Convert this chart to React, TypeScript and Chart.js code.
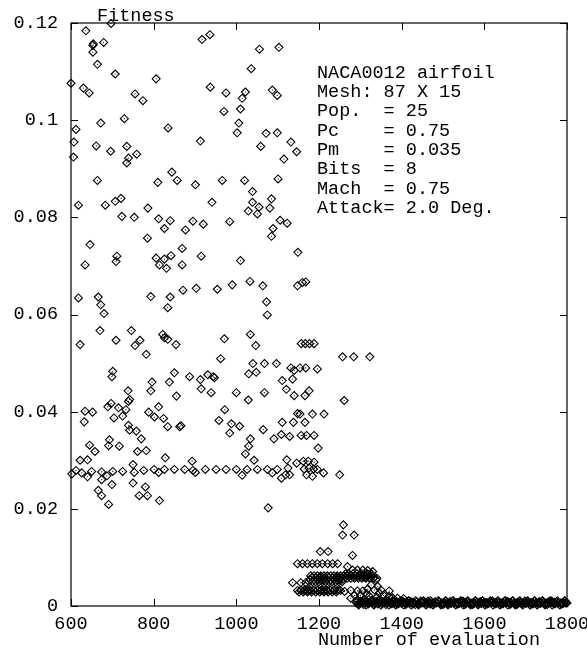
import React, { useEffect, useRef } from "react";
import { Chart, registerables } from "chart.js";

Chart.register(...registerables);

// ---- data (evaluation number, fitness) ----
const upperPoints: [number, number][] = [
  [636,0.1184],[697,0.1199],[654,0.1157],[653,0.1154],[679,0.1160],[653,0.1140],[664,0.1115],[707,0.1095],
  [600,0.1076],[630,0.1066],[644,0.1056],[917,0.1166],[936,0.1176],[1056,0.1146],[1103,0.1150],[1036,0.1106],
  [806,0.1085],[937,0.1068],[975,0.1056],[1022,0.1058],[1014,0.1045],[1087,0.1062],[1099,0.1051],[755,0.1054],
  [774,0.1040],[1010,0.1023],[970,0.1018],[672,0.0994],[729,0.1003],[612,0.0981],[835,0.0984],[1006,0.0994],
  [1002,0.0974],[1072,0.0973],[1099,0.0974],[607,0.0955],[661,0.0947],[696,0.0936],[735,0.0946],[759,0.0930],
  [739,0.0922],[735,0.0912],[1059,0.0946],[913,0.0957],[1132,0.0955],[1146,0.0935],[1115,0.0920],[606,0.0924],
  [664,0.0876],[810,0.0872],[844,0.0893],[857,0.0876],[901,0.0867],[966,0.0876],[1020,0.0876],[1101,0.0879],
  [1039,0.0853],[941,0.0831],[1039,0.0831],[1055,0.0821],[1085,0.0838],[1029,0.0813],[1051,0.0807],[1081,0.0819],
  [618,0.0825],[683,0.0825],[707,0.0833],[721,0.0839],[723,0.0802],[753,0.0800],[786,0.0819],[812,0.0797],
  [840,0.0793],[826,0.0777],[877,0.0774],[895,0.0792],[920,0.0786],[984,0.0791],[1106,0.0794],[1123,0.0788],
  [1089,0.0777],[1085,0.0761],[646,0.0744],[785,0.0757],[634,0.0702],[711,0.0720],[709,0.0709],[806,0.0716],
  [826,0.0714],[814,0.0702],[831,0.0695],[842,0.0721],[869,0.0736],[869,0.0702],[915,0.0720],[1010,0.0711],
  [1149,0.0728],[618,0.0634],[666,0.0636],[672,0.0620],[680,0.0602],[793,0.0637],[840,0.0636],[834,0.0614],
  [871,0.0650],[903,0.0654],[954,0.0652],[990,0.0661],[1033,0.0668],[1064,0.0659],[1073,0.0626],[1075,0.0599],
  [1148,0.0659],[1160,0.0666],[1168,0.0667],
];

const middlePoints: [number, number][] = [
  [670,0.0567],[746,0.0567],[709,0.0547],[767,0.0547],[755,0.0536],[782,0.0518],[622,0.0538],[822,0.0559],
  [826,0.0552],[834,0.0549],[854,0.0538],[971,0.0550],[962,0.0509],[1034,0.0559],[1047,0.0536],[701,0.0483],
  [699,0.0472],[850,0.0480],[838,0.0461],[887,0.0472],[913,0.0466],[931,0.0476],[944,0.0472],[947,0.0470],
  [915,0.0447],[939,0.0439],[1040,0.0499],[1068,0.0499],[1097,0.0499],[1030,0.0478],[1048,0.0481],[1111,0.0464],
  [738,0.0443],[796,0.0461],[793,0.0443],[855,0.0432],[1000,0.0439],[1029,0.0424],[1068,0.0439],[1121,0.0446],
  [634,0.0401],[652,0.0399],[632,0.0379],[689,0.0410],[697,0.0417],[715,0.0408],[725,0.0391],[704,0.0387],
  [733,0.0404],[739,0.0421],[742,0.0425],[788,0.0399],[802,0.0389],[812,0.0410],[824,0.0386],[834,0.0369],
  [863,0.0369],[866,0.0371],[739,0.0372],[742,0.0362],[758,0.0360],[770,0.0344],[972,0.0404],[958,0.0382],
  [988,0.0375],[984,0.0356],[1008,0.0370],[1065,0.0363],[1034,0.0344],[1030,0.0329],[1022,0.0313],[1091,0.0344],
  [1109,0.0353],[1111,0.0378],[1129,0.0349],[645,0.0331],[658,0.0318],[693,0.0342],[691,0.0330],[717,0.0329],
  [761,0.0318],[782,0.0320],[828,0.0305],[622,0.0300],[640,0.0301],
];

const linePoints: [number, number][] = [
  [602,0.0272],[612,0.0279],[626,0.0274],[640,0.0266],[650,0.0277],[674,0.0276],[687,0.0268],[701,0.0277],
  [725,0.0277],[750,0.0291],[753,0.0275],[776,0.0279],[801,0.0281],[812,0.0275],[826,0.0281],[850,0.0281],
  [875,0.0281],[893,0.0298],[895,0.0279],[901,0.0275],[925,0.0281],[951,0.0281],[975,0.0281],[1000,0.0281],
  [1014,0.0269],[1026,0.0281],[1043,0.0300],[1051,0.0281],[1075,0.0281],[1087,0.0274],[1099,0.0281],[1109,0.0263],
  [1122,0.0301],[1125,0.0284],[1129,0.0270],[666,0.0238],[674,0.0227],[691,0.0209],[699,0.0250],[674,0.0260],
  [750,0.0253],[765,0.0227],[780,0.0245],[785,0.0227],[814,0.0217],[1077,0.0202],
];

const rightPoints: [number, number][] = [
  [1157,0.0540],[1167,0.0540],[1177,0.0540],[1188,0.0540],[1257,0.0513],[1284,0.0513],[1323,0.0513],[1132,0.0490],
  [1140,0.0485],[1154,0.0490],[1168,0.0490],[1196,0.0488],[1136,0.0467],[1140,0.0433],[1166,0.0433],[1176,0.0443],
  [1261,0.0423],[1148,0.0396],[1154,0.0395],[1184,0.0395],[1212,0.0395],[1138,0.0378],[1166,0.0378],[1157,0.0351],
  [1170,0.0351],[1188,0.0351],[1198,0.0325],[1146,0.0294],[1162,0.0298],[1174,0.0298],[1188,0.0296],[1164,0.0282],
  [1176,0.0284],[1187,0.0282],[1196,0.0281],[1211,0.0274],[1119,0.0270],[1170,0.0270],[1184,0.0267],[1250,0.0270],
];

const clusterPoints: [number, number][] = [
  [1259,0.0167],[1257,0.0146],[1285,0.0146],[1203,0.0112],[1222,0.0112],[1281,0.0104],
  [1148,0.0087],[1160,0.0087],[1172,0.0087],[1184,0.0087],[1196,0.0087],[1208,0.0087],[1221,0.0087],[1233,0.0087],[1245,0.0087],
  [1269,0.0081],[1281,0.0074],[1293,0.0074],[1306,0.0074],[1318,0.0073],[1330,0.0071],
  [1180,0.0062],[1188,0.0062],[1196,0.0062],[1204,0.0062],[1212,0.0062],[1220,0.0062],[1228,0.0062],[1236,0.0062],[1244,0.0062],[1252,0.0062],[1260,0.0062],
  [1176,0.0050],[1184,0.0050],[1192,0.0050],[1200,0.0050],[1208,0.0050],[1216,0.0050],[1224,0.0050],[1232,0.0050],[1240,0.0050],[1248,0.0050],[1256,0.0050],
  [1264,0.0066],[1273,0.0066],[1282,0.0066],[1291,0.0066],[1300,0.0066],[1309,0.0066],[1318,0.0066],[1327,0.0066],
  [1268,0.0057],[1277,0.0057],[1286,0.0057],[1295,0.0057],[1304,0.0057],[1313,0.0057],[1322,0.0057],[1331,0.0057],[1340,0.0057],
  [1136,0.0048],[1156,0.0048],[1168,0.0048],[1326,0.0043],[1342,0.0040],[1334,0.0033],
  [1148,0.0032],[1156,0.0032],[1164,0.0032],[1172,0.0032],[1180,0.0032],[1188,0.0032],[1196,0.0032],[1204,0.0032],
  [1212,0.0032],[1220,0.0032],[1228,0.0032],[1236,0.0032],[1244,0.0032],[1252,0.0032],
  [1262,0.0030],[1277,0.0032],[1293,0.0031],[1306,0.0031],[1318,0.0035],[1350,0.0033],[1370,0.0031],
  [1277,0.0016],[1293,0.0013],[1310,0.0014],[1300,0.0022],[1322,0.0020],[1340,0.0018],[1356,0.0022],[1362,0.0012],
  [1378,0.0017],[1390,0.0016],[1405,0.0015],[1286,0.0022],[1315,0.0025],[1330,0.0012],[1346,0.0026],[1369,0.0020],
];

const clusterDense: [number, number][] = [
  [1178,0.0055],[1183,0.0058],[1188,0.0054],[1193,0.0058],[1198,0.0055],[1203,0.0059],[1208,0.0054],[1213,0.0058],
  [1218,0.0055],[1223,0.0059],[1228,0.0054],[1233,0.0058],[1238,0.0055],[1243,0.0059],[1248,0.0054],[1253,0.0058],
  [1258,0.0055],[1263,0.0060],[1268,0.0062],[1273,0.0060],[1278,0.0063],[1283,0.0059],[1288,0.0062],[1293,0.0060],
  [1298,0.0063],[1303,0.0059],[1308,0.0062],[1313,0.0060],[1318,0.0063],[1323,0.0059],[1328,0.0061],[1333,0.0058],
  [1338,0.0054],
  [1152,0.0029],[1157,0.0033],[1162,0.0029],[1167,0.0033],[1172,0.0029],[1177,0.0033],[1182,0.0029],[1187,0.0033],
  [1192,0.0029],[1197,0.0033],[1202,0.0029],[1207,0.0033],[1212,0.0029],[1217,0.0033],[1222,0.0029],[1227,0.0033],
  [1232,0.0029],[1237,0.0033],[1242,0.0029],[1247,0.0033],
];

const tailX: number[] = [
  1292,1298,1305,1311,1316,1322,1329,1335,1341,1346,1352,1358,1365,1371,1377,1383,1388,1394,1400,1407,
  1413,1419,1425,1430,1436,1442,1449,1455,1461,1467,1472,1478,1484,1491,1497,1503,1509,1514,1520,1526,
  1533,1539,1545,1551,1556,1562,1568,1575,1581,1587,1593,1598,1604,1610,1617,1623,1629,1635,1640,1646,
  1652,1659,1665,1671,1677,1682,1688,1694,1701,1707,1713,1719,1724,1730,1736,1743,1749,1755,1761,1766,
  1772,1778,1785,1791,1796,1800,
];
const tailY: number[] = [
  0.0009,0.0006,0.0008,0.0005,0.0007,0.0006,0.0008,0.0005,0.0007,0.0006,0.0005,0.0008,0.0006,0.0007,0.0005,0.0006,0.0008,0.0006,0.0005,0.0007,
  0.0006,0.0005,0.0007,0.0006,0.0008,0.0005,0.0006,0.0007,0.0005,0.0006,0.0007,0.0005,0.0006,0.0008,0.0006,0.0005,0.0007,0.0006,0.0005,0.0006,
  0.0007,0.0005,0.0006,0.0007,0.0005,0.0006,0.0006,0.0005,0.0007,0.0006,0.0005,0.0006,0.0007,0.0005,0.0006,0.0006,0.0005,0.0007,0.0006,0.0005,
  0.0006,0.0007,0.0005,0.0006,0.0006,0.0005,0.0007,0.0006,0.0005,0.0006,0.0007,0.0005,0.0006,0.0006,0.0005,0.0007,0.0006,0.0005,0.0006,0.0007,
  0.0005,0.0006,0.0006,0.0005,0.0007,0.0006,
];
const tailX2: number[] = [
  1295,1301,1308,1313,1319,1325,1332,1338,1343,1349,1355,1362,1368,1374,1380,1385,1391,1397,1404,1410,
  1416,1422,1427,1433,1439,1446,1452,1458,1464,1469,1475,1481,1488,1494,1500,1506,1511,1517,1523,1530,
  1536,1542,1548,1553,1559,1565,1572,1578,1584,1590,1595,1601,1607,1614,1620,1626,1632,1637,1643,1649,
  1656,1662,1668,1674,1679,1685,1691,1698,1704,1710,1716,1721,1727,1733,1740,1746,1752,1758,1763,1769,
  1775,1782,1788,1794,1798,
];
const tailY2: number[] = [
  0.0004,0.0010,0.0003,0.0009,0.0004,0.0010,0.0003,0.0009,0.0004,0.0010,0.0009,0.0003,0.0010,0.0004,0.0009,0.0003,0.0004,0.0010,0.0009,0.0003,
  0.0010,0.0009,0.0004,0.0003,0.0004,0.0010,0.0009,0.0003,0.0010,0.0004,0.0003,0.0009,0.0010,0.0004,0.0003,0.0010,0.0004,0.0009,0.0010,0.0003,
  0.0004,0.0009,0.0010,0.0003,0.0009,0.0004,0.0003,0.0010,0.0004,0.0009,0.0010,0.0003,0.0004,0.0009,0.0010,0.0004,0.0009,0.0003,0.0004,0.0010,
  0.0009,0.0003,0.0010,0.0004,0.0003,0.0009,0.0004,0.0010,0.0009,0.0003,0.0004,0.0010,0.0003,0.0009,0.0010,0.0004,0.0003,0.0009,0.0010,0.0004,
  0.0009,0.0003,0.0004,0.0010,0.0006,
];
const tailX3: number[] = [
  1290,1296,1302,1309,1314,1320,1327,1333,1339,1344,1350,1357,1363,1369,1375,1381,1386,1392,1399,1405,
  1411,1417,1423,1428,1434,1441,1447,1453,1459,1465,1470,1476,1483,1489,1495,1501,1507,1512,1518,1525,
  1531,1537,1543,1549,1554,1560,1567,1573,1579,1585,1591,1596,1602,1609,1615,1621,1627,1633,1638,1644,
  1651,1657,1663,1669,1675,1680,1686,1693,1699,1705,1711,1717,1722,1728,1735,1741,1747,1753,1759,1764,
  1770,1777,1783,1789,1795,
];
const tailY3: number[] = [
  0.0007,0.0002,0.0007,0.0011,0.0002,0.0007,0.0011,0.0002,0.0007,0.0011,0.0002,0.0007,0.0011,0.0002,0.0007,0.0011,0.0002,0.0007,0.0011,0.0002,
  0.0007,0.0011,0.0002,0.0007,0.0011,0.0002,0.0007,0.0011,0.0002,0.0007,0.0011,0.0002,0.0007,0.0011,0.0002,0.0007,0.0011,0.0002,0.0007,0.0011,
  0.0002,0.0007,0.0011,0.0002,0.0007,0.0011,0.0002,0.0007,0.0011,0.0002,0.0007,0.0011,0.0002,0.0007,0.0011,0.0002,0.0007,0.0011,0.0002,0.0007,
  0.0011,0.0002,0.0007,0.0011,0.0002,0.0007,0.0011,0.0002,0.0007,0.0011,0.0002,0.0007,0.0011,0.0002,0.0007,0.0011,0.0002,0.0007,0.0011,0.0002,
  0.0007,0.0011,0.0002,0.0007,0.0011,
];

const xTickValues = [600, 800, 1000, 1200, 1400, 1600, 1800];
const yTickValues = [0, 0.02, 0.04, 0.06, 0.08, 0.1, 0.12];
const yAxisLabel = "Fitness";
const xAxisLabel = "Number of evaluation";
const infoLines = [
  "NACA0012 airfoil",
  "Mesh: 87 X 15",
  "Pop.  = 25",
  "Pc    = 0.75",
  "Pm    = 0.035",
  "Bits  = 8",
  "Mach  = 0.75",
  "Attack= 2.0 Deg.",
];

const FONT_FAMILY = "'Liberation Mono', 'DejaVu Sans Mono', monospace";
const FONT_SIZE = 18.5;

const framePlugin = {
  id: "framePlugin",
  afterDraw(chart: any) {
    const { ctx, chartArea } = chart;
    const xs = chart.scales.x;
    const ys = chart.scales.y;
    const { left, right, top, bottom } = chartArea;
    ctx.save();
    ctx.strokeStyle = "#000";
    ctx.lineWidth = 1.2;
    ctx.strokeRect(left, top, right - left, bottom - top);
    ctx.lineWidth = 1;
    const tl = 7;
    ctx.beginPath();
    xTickValues.forEach((v) => {
      const px = Math.round(xs.getPixelForValue(v)) + 0.5;
      ctx.moveTo(px, bottom);
      ctx.lineTo(px, bottom - tl);
      ctx.moveTo(px, top);
      ctx.lineTo(px, top + tl);
    });
    yTickValues.forEach((v) => {
      const py = Math.round(ys.getPixelForValue(v)) + 0.5;
      ctx.moveTo(left, py);
      ctx.lineTo(left + tl, py);
      ctx.moveTo(right, py);
      ctx.lineTo(right - tl, py);
    });
    ctx.stroke();

    ctx.fillStyle = "#000";
    ctx.font = `${FONT_SIZE}px ${FONT_FAMILY}`;
    ctx.textAlign = "left";
    ctx.textBaseline = "alphabetic";
    ctx.fillText(yAxisLabel, left + 26, top - 2);
    ctx.fillText(xAxisLabel, 318, 645);

    ctx.textBaseline = "middle";
    infoLines.forEach((line, i) => {
      ctx.fillText(line, 317, 73 + i * 19.3);
    });
    ctx.restore();
  },
};

export default function App() {
  const canvasRef = useRef<HTMLCanvasElement | null>(null);

  useEffect(() => {
    document.body.style.margin = "0";
    const canvas = canvasRef.current;
    if (!canvas) return;

    const all = [
      ...upperPoints,
      ...middlePoints,
      ...linePoints,
      ...rightPoints,
      ...clusterPoints,
      ...clusterDense,
      ...tailX.map((x, i) => [x, tailY[i]] as [number, number]),
      ...tailX2.map((x, i) => [x, tailY2[i]] as [number, number]),
      ...tailX3.map((x, i) => [x, tailY3[i]] as [number, number]),
    ].map(([x, y]) => ({ x, y }));

    const tickFont = { family: FONT_FAMILY, size: FONT_SIZE };

    const chart = new Chart(canvas, {
      type: "scatter",
      data: {
        datasets: [
          {
            data: all,
            pointStyle: "rectRot",
            pointRadius: 4,
            pointHoverRadius: 4,
            borderWidth: 1.1,
            borderColor: "#000",
            backgroundColor: "rgba(0,0,0,0)",
            showLine: false,
            clip: false as any,
          },
          {
            data: all,
            pointStyle: "circle",
            pointRadius: 0.6,
            pointHoverRadius: 0.6,
            borderWidth: 0,
            backgroundColor: "#000",
            showLine: false,
            clip: false as any,
          },
        ],
      },
      options: {
        animation: false,
        responsive: false,
        devicePixelRatio: 1,
        events: [],
        layout: { padding: { top: 23, right: 20, left: 0, bottom: 0 } },
        plugins: {
          legend: { display: false },
          tooltip: { enabled: false },
          title: { display: false },
        },
        scales: {
          x: {
            type: "linear",
            min: 600,
            max: 1800,
            afterBuildTicks: (s: any) => {
              s.ticks = xTickValues.map((v) => ({ value: v }));
            },
            ticks: {
              color: "#000",
              font: tickFont,
              padding: 7,
              maxRotation: 0,
              autoSkip: false,
              callback: (v: any) => String(v),
            },
            grid: { display: false, drawTicks: false },
            border: { display: false },
            afterFit: (s: any) => {
              s.height = 44;
              s.paddingRight = 0;
              s.paddingLeft = 0;
            },
          },
          y: {
            type: "linear",
            min: 0,
            max: 0.12,
            afterBuildTicks: (s: any) => {
              s.ticks = yTickValues.map((v) => ({ value: v }));
            },
            ticks: {
              color: "#000",
              font: tickFont,
              padding: 13,
              autoSkip: false,
              callback: (v: any) => String(Number(Number(v).toFixed(2))),
            },
            grid: { display: false, drawTicks: false },
            border: { display: false },
            afterFit: (s: any) => {
              s.width = 71;
              s.paddingTop = 0;
              s.paddingBottom = 0;
            },
          },
        },
      },
      plugins: [framePlugin],
    });

    return () => chart.destroy();
  }, []);

  return (
    <div style={{ width: 587, height: 650, background: "#fff" }}>
      <canvas ref={canvasRef} width={587} height={650} style={{ width: 587, height: 650, display: "block" }} />
    </div>
  );
}
